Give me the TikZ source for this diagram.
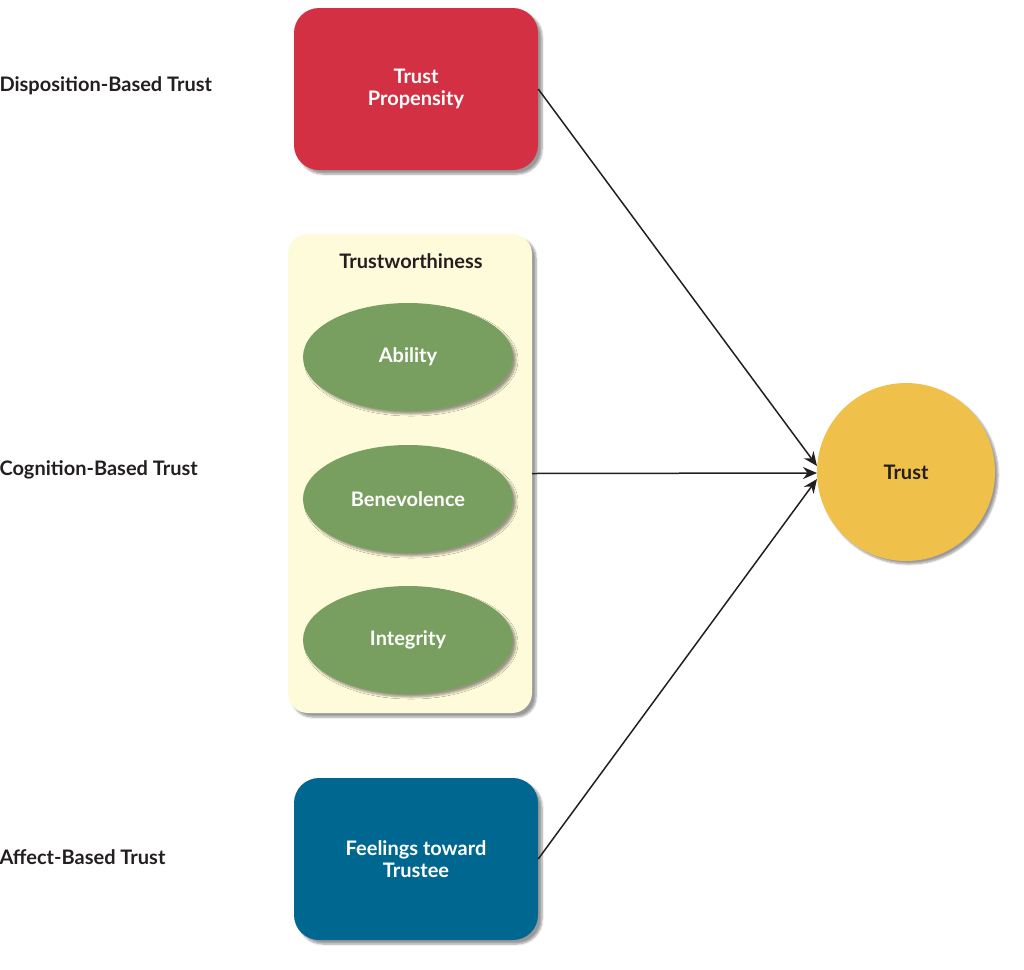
\documentclass[tikz,border=0pt]{standalone}
\usepackage{fontspec}
\setmainfont{Lato}
\usetikzlibrary{shapes.geometric,arrows.meta,shadows.blur}
\definecolor{tred}{HTML}{D33044}
\definecolor{tblue}{HTML}{006890}
\definecolor{tpanel}{HTML}{FEFBDB}
\definecolor{tgreen}{HTML}{789F5F}
\definecolor{tgold}{HTML}{EFC04A}
\definecolor{tdark}{HTML}{231F20}
\begin{document}
\begin{tikzpicture}[x=1pt,y=-1pt,font=\fontsize{20}{24}\selectfont\bfseries,
 box/.style={rectangle,rounded corners=25pt,minimum width=244pt,minimum height=162pt,text=white,align=center,blur shadow={shadow xshift=4pt,shadow yshift=-4pt,shadow blur steps=6}},
 ell/.style={ellipse,fill=tgreen,minimum width=210pt,minimum height=108pt,text=white,blur shadow={shadow xshift=3pt,shadow yshift=-3pt,shadow blur steps=6}},
 lab/.style={anchor=west,text=tdark},
 arr/.style={-{Stealth[length=14pt,width=12pt]},line width=1.5pt,draw=tdark}]
\useasboundingbox (0,0) rectangle (1024,969);
\node[box,fill=tred] (prop) at (416,89) {Trust\\[-2pt]Propensity};
\node[box,fill=tpanel,minimum height=479pt,rounded corners=20pt] (panel) at (410,473.5) {};
\node[text=tdark] (tw) at (411,261) {Trustworthiness};
\node[ell] (abil) at (408,357) {Ability};
\node[ell] (bene) at (408,499) {Benevolence};
\node[ell] (integ) at (408,640) {Integrity};
\node[box,fill=tblue] (feel) at (416,859) {Feelings toward\\[-2pt]Trustee};
\node[circle,fill=tgold,minimum size=178pt,text=tdark,blur shadow={shadow xshift=3pt,shadow yshift=-3pt,shadow blur steps=6}] (trust) at (906,472) {Trust};
\node[lab] (l1) at (-4,86) {Disposition-Based Trust};
\node[lab] (l2) at (-4,470) {Cognition-Based Trust};
\node[lab] (l3) at (-4,857) {Affect-Based Trust};
\coordinate (t1) at (817,466);
\coordinate (t2) at (817,473);
\coordinate (t3) at (817,479);
\draw[arr] (prop.east) -- (t1);
\draw[arr] (panel.east) -- (t2);
\draw[arr] (feel.east) -- (t3);
\end{tikzpicture}
\end{document}
